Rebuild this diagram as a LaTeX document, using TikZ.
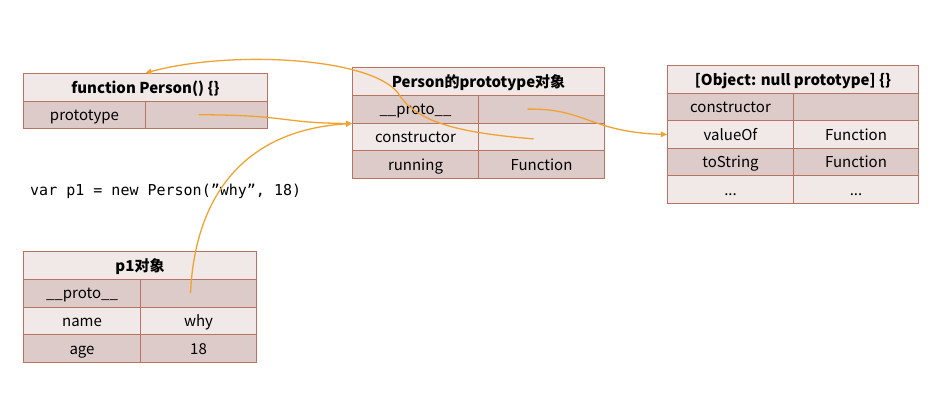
\documentclass[tikz,border=0pt]{standalone}
\usepackage{fontspec}
\setmainfont{Noto Sans CJK SC}
\newfontfamily\codefont{DejaVu Sans Mono}
\usetikzlibrary{arrows.meta}
\definecolor{cellline}{HTML}{B87363}
\definecolor{celldark}{HTML}{DDCBCA}
\definecolor{celllight}{HTML}{F0E9E7}
\definecolor{linkcol}{HTML}{F0A332}
\tikzset{
  cell/.style={draw=cellline,line width=1pt,inner sep=0pt,anchor=north west,
    text height=13pt,text depth=1.5pt,font=\fontsize{15}{17}\selectfont},
  hdr/.style={cell,fill=celllight,font=\fontsize{15}{17}\selectfont\bfseries},
  dark/.style={cell,fill=celldark},
  light/.style={cell,fill=celllight},
  link/.style={draw=linkcol,line width=1.3pt,-{Triangle[length=6pt,width=5.5pt]}}
}
\begin{document}
\begin{tikzpicture}[x=1pt,y=-1pt]
\useasboundingbox (0,0) rectangle (937,416);
% function Person
\begin{scope}[shift={(23,73)}]
\node[hdr,minimum width=244pt,minimum height=27.5pt] (fnhead) at (0,0) {function Person() \{\}};
\node[dark,minimum width=122pt,minimum height=27.5pt] (fnproto) at (0,27.5) {prototype};
\node[dark,minimum width=122pt,minimum height=27.5pt] (fnprotoval) at (122,27.5) {};
\end{scope}
% Person.prototype
\begin{scope}[shift={(352,67)}]
\node[hdr,minimum width=252pt,minimum height=27.75pt] (pthead) at (0,0) {Person的prototype对象};
\node[dark,minimum width=126pt,minimum height=27.75pt] (ptproto) at (0,27.75) {\_\_proto\_\_};
\node[dark,minimum width=126pt,minimum height=27.75pt] (ptprotoval) at (126,27.75) {};
\node[light,minimum width=126pt,minimum height=27.75pt] (ptcons) at (0,55.5) {constructor};
\node[light,minimum width=126pt,minimum height=27.75pt] (ptconsval) at (126,55.5) {};
\node[dark,minimum width=126pt,minimum height=27.75pt] (ptrun) at (0,83.25) {running};
\node[dark,minimum width=126pt,minimum height=27.75pt] (ptrunval) at (126,83.25) {Function};
\end{scope}
% Object.prototype
\begin{scope}[shift={(667,65)}]
\node[hdr,minimum width=251pt,minimum height=27.6pt] (objhead) at (0,0) {[Object: null prototype] \{\}};
\node[dark,minimum width=126pt,minimum height=27.6pt] (objcons) at (0,27.6) {constructor};
\node[dark,minimum width=125pt,minimum height=27.6pt] (objconsval) at (126,27.6) {};
\node[light,minimum width=126pt,minimum height=27.6pt] (objvalue) at (0,55.2) {valueOf};
\node[light,minimum width=125pt,minimum height=27.6pt] (objvalueval) at (126,55.2) {Function};
\node[dark,minimum width=126pt,minimum height=27.6pt] (objstr) at (0,82.8) {toString};
\node[dark,minimum width=125pt,minimum height=27.6pt] (objstrval) at (126,82.8) {Function};
\node[light,minimum width=126pt,minimum height=27.6pt] (objmore) at (0,110.4) {...};
\node[light,minimum width=125pt,minimum height=27.6pt] (objmoreval) at (126,110.4) {...};
\end{scope}
% p1
\begin{scope}[shift={(23,251)}]
\node[hdr,minimum width=233pt,minimum height=27.75pt] (p1head) at (0,0) {p1对象};
\node[dark,minimum width=117pt,minimum height=27.75pt] (p1proto) at (0,27.75) {\_\_proto\_\_};
\node[dark,minimum width=116pt,minimum height=27.75pt] (p1protoval) at (117,27.75) {};
\node[light,minimum width=117pt,minimum height=27.75pt] (p1name) at (0,55.5) {name};
\node[light,minimum width=116pt,minimum height=27.75pt] (p1nameval) at (117,55.5) {why};
\node[dark,minimum width=117pt,minimum height=27.75pt] (p1age) at (0,83.25) {age};
\node[dark,minimum width=116pt,minimum height=27.75pt] (p1ageval) at (117,83.25) {18};
\end{scope}
\node[anchor=base west,inner sep=0pt,font=\codefont\fontsize{15}{17}\selectfont] (code) at (30,195) {var p1 = new Person(”why”, 18)};
% links
\draw[link] ([xshift=-8pt]fnprotoval.center) .. controls (290,115) and (280,123) .. (ptproto.south west);
\draw[link] ([xshift=-8pt]p1protoval.center) .. controls (195,195) and (245,130) .. (ptproto.south west);
\draw[link] ([xshift=-8pt,yshift=-2pt]ptconsval.center) .. controls (450,132) and (415,120) .. (398,93)
  .. controls (370,57) and (230,50) .. (fnhead.north);
\draw[link] ([xshift=-14pt]ptprotoval.center) .. controls (585,108) and (590,132) .. (objvalue.west);
\end{tikzpicture}
\end{document}
